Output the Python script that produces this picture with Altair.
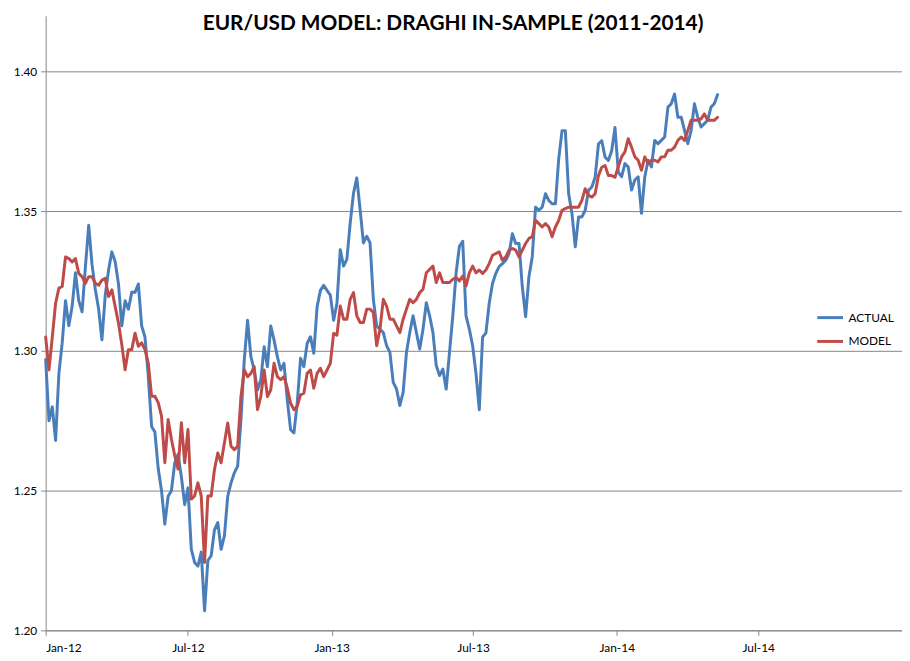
import altair as alt
import pandas as pd

TITLE = "EUR/USD MODEL: DRAGHI IN-SAMPLE (2011-2014)"
SERIES = ["ACTUAL", "MODEL"]
COLORS = ["#4A7EBB", "#BE4B48"]
Y_TICKS = [1.20, 1.25, 1.30, 1.35, 1.40]
X_TICKS = [(2012, 1), (2012, 7), (2013, 1), (2013, 7), (2014, 1), (2014, 7)]

# the series run from the first trading days of 2012 to early May 2014
FIRST_DAY = "2012-01-01"
LAST_DAY = "2014-05-10"

actual = [
    1.297, 1.275, 1.280, 1.268, 1.292, 1.303, 1.318, 1.309, 1.316, 1.328,
    1.318, 1.314, 1.330, 1.345, 1.331, 1.322, 1.315, 1.304, 1.320, 1.329,
    1.3355, 1.332, 1.324, 1.309, 1.318, 1.315, 1.321, 1.321, 1.324, 1.309,
    1.305, 1.291, 1.273, 1.271, 1.258, 1.250, 1.238, 1.248, 1.250, 1.260,
    1.263, 1.255, 1.245, 1.251, 1.229,
    1.2243, 1.223, 1.228, 1.207, 1.225, 1.2267, 1.236, 1.2386, 1.229, 1.2338,
    1.248, 1.2528, 1.2564, 1.2588, 1.2754, 1.2968, 1.311, 1.298, 1.2932, 1.286,
    1.2897, 1.3015, 1.2944, 1.309, 1.3039, 1.298, 1.2932, 1.2956, 1.2825, 1.2718,
    1.2707, 1.2813, 1.2974, 1.2944, 1.3027, 1.3051, 1.2992, 1.3158, 1.3217, 1.3235,
    1.3217, 1.320, 1.311, 1.317,
    1.3363, 1.3304, 1.3328, 1.3458, 1.3565, 1.362, 1.3506, 1.3387, 1.3411, 1.3387,
    1.3185, 1.309, 1.3078, 1.3066, 1.3019, 1.2995, 1.2888, 1.2864, 1.2805, 1.2852,
    1.2995, 1.3066, 1.3126, 1.3066, 1.3007, 1.3078, 1.3173, 1.3126, 1.3066, 1.2948,
    1.2912, 1.2935, 1.2864, 1.2995, 1.3126, 1.328, 1.3375, 1.3393, 1.3126, 1.3078,
    1.3019, 1.292,
    1.279, 1.305, 1.3064, 1.3171, 1.3242, 1.3278, 1.3302, 1.3313, 1.3325, 1.3349,
    1.342, 1.3385, 1.3385, 1.323, 1.3123, 1.3266, 1.3337, 1.3515, 1.3504, 1.3515,
    1.3563, 1.3539, 1.3527, 1.3527, 1.3688, 1.3789, 1.3789, 1.3563, 1.3492, 1.3373,
    1.348, 1.348, 1.3504, 1.3575, 1.3587, 1.3622, 1.3741, 1.3753, 1.3694, 1.3682,
    1.3717, 1.380,
    1.364, 1.3624, 1.3671, 1.3659, 1.3576, 1.3612, 1.3624, 1.3493, 1.3624, 1.3683,
    1.3659, 1.3754, 1.3742, 1.3754, 1.3766, 1.3873, 1.3885, 1.392, 1.3837, 1.3837,
    1.379, 1.3742, 1.379, 1.3885, 1.3837, 1.3802, 1.3814, 1.3826, 1.3873, 1.3885,
    1.3918,
]

model = [
    1.305, 1.2933, 1.305, 1.3171, 1.3225, 1.3231, 1.3337, 1.3331, 1.3319, 1.3331,
    1.3278, 1.3266, 1.3242, 1.3266, 1.3266, 1.3242, 1.3236, 1.3254, 1.326, 1.3195,
    1.3219, 1.3159, 1.310, 1.3023, 1.2933, 1.3005, 1.3005, 1.3064, 1.3017, 1.3029,
    1.3005, 1.2957, 1.2838, 1.2838, 1.2815, 1.2767, 1.260, 1.2755, 1.2684, 1.2625,
    1.2577, 1.2743, 1.260, 1.2719, 1.247,
    1.2481, 1.2528, 1.2481, 1.2243, 1.2481, 1.2481, 1.2576, 1.2635, 1.260, 1.2671,
    1.2742, 1.2659, 1.2647, 1.2659, 1.2837, 1.2932, 1.2908, 1.292, 1.2944, 1.279,
    1.2837, 1.2932, 1.2837, 1.2861, 1.2956, 1.2908, 1.2897, 1.2908, 1.2867, 1.2813,
    1.279, 1.2802, 1.2843, 1.2849, 1.292, 1.2932, 1.2867, 1.292, 1.2938, 1.2908,
    1.2932, 1.2956, 1.3063, 1.3057,
    1.3161, 1.3114, 1.3114, 1.3185, 1.3209, 1.3126, 1.3102, 1.3102, 1.315, 1.315,
    1.3138, 1.3019, 1.3078, 1.3185, 1.3161, 1.3114, 1.3114, 1.309, 1.3066, 1.3114,
    1.315, 1.3185, 1.3173, 1.3185, 1.3209, 1.3221, 1.328, 1.3292, 1.3304, 1.3245,
    1.328, 1.3245, 1.3245, 1.3245, 1.3257, 1.3263, 1.3251, 1.3268, 1.3233, 1.328,
    1.3304, 1.328,
    1.329, 1.3278, 1.329, 1.3313, 1.3343, 1.3349, 1.3355, 1.3325, 1.3337, 1.3361,
    1.3367, 1.3361, 1.3337, 1.3361, 1.3385, 1.3403, 1.3409, 1.3468, 1.3456, 1.3444,
    1.3456, 1.3444, 1.3409, 1.3444, 1.3468, 1.3504, 1.351, 1.3515, 1.3515, 1.3515,
    1.3515, 1.3539, 1.3581, 1.3557, 1.3551, 1.3563, 1.3628, 1.3658, 1.3664, 1.3628,
    1.3628, 1.3622,
    1.366, 1.3695, 1.3713, 1.376, 1.373, 1.3695, 1.3683, 1.3647, 1.3695, 1.3671,
    1.3683, 1.3683, 1.3677, 1.3695, 1.3695, 1.3719, 1.3719, 1.373, 1.3754, 1.3766,
    1.3754, 1.379, 1.3826, 1.3826, 1.3826, 1.3831, 1.3849, 1.3826, 1.3826, 1.3826,
    1.3837,
]

dates = pd.date_range(FIRST_DAY, LAST_DAY, periods=len(actual))
frames = []
for name, values in zip(SERIES, [actual, model]):
    frames.append(pd.DataFrame({"date": dates, "value": values, "series": name}))
df = pd.concat(frames, ignore_index=True)

FONT = "Lato"
GRAY = "#868686"

x_enc = alt.X(
    "date:T",
    title=None,
    scale=alt.Scale(domain=[
        alt.DateTime(year=2012, month=1, date=1),
        alt.DateTime(year=2015, month=1, date=1),
    ]),
    axis=alt.Axis(
        values=[alt.DateTime(year=y, month=m, date=1) for y, m in X_TICKS],
        format="%b-%y",
        grid=False,
        tickSize=5,
        labelPadding=7,
    ),
)
y_enc = alt.Y(
    "value:Q",
    title=None,
    scale=alt.Scale(domain=[1.20, 1.42], nice=False, zero=False),
    axis=alt.Axis(values=Y_TICKS, format=".2f", grid=True, tickSize=5, labelPadding=4),
)
color_enc = alt.Color(
    "series:N",
    scale=alt.Scale(domain=SERIES, range=COLORS),
    legend=alt.Legend(
        title=None,
        orient="none",
        legendX=777,
        legendY=290,
        symbolType="stroke",
        symbolSize=676,
        symbolStrokeWidth=3,
        labelFont=FONT,
        labelFontSize=12,
        labelColor="#000000",
        rowPadding=3,
        padding=0,
    ),
)

# MODEL is drawn after ACTUAL so the red line sits on top, as in Excel
lines = [
    alt.Chart(df[df["series"] == name])
    .mark_line(strokeWidth=3, strokeJoin="round", strokeCap="round")
    .encode(x=x_enc, y=y_enc, color=color_enc)
    for name in SERIES
]

chart = (
    alt.layer(*lines)
    .properties(
        width=864,
        height=620,
        padding={"left": 5, "top": 2, "right": 0, "bottom": 0},
        title=alt.TitleParams(
            TITLE,
            font=FONT,
            fontSize=21,
            fontWeight="bold",
            color="#000000",
            anchor="middle",
            dx=-21,
            dy=18,
            offset=0,
        ),
    )
    .configure_view(stroke=None)
    .configure_axis(
        labelFont=FONT,
        labelFontSize=12,
        labelColor="#000000",
        domainColor=GRAY,
        tickColor=GRAY,
        gridColor=GRAY,
        gridWidth=1,
        domainWidth=1,
    )
)

chart.save("out.html", embed_options={"renderer": "svg", "actions": False})
